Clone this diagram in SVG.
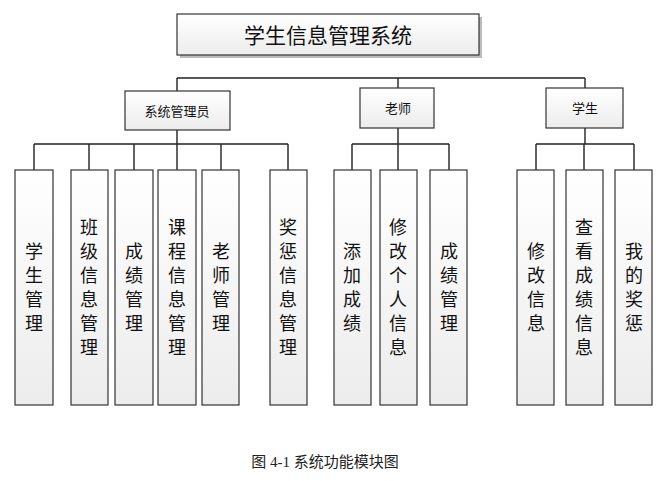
<svg xmlns="http://www.w3.org/2000/svg" width="663" height="481" viewBox="0 0 663 481">
<style>
.b{fill:url(#g);stroke:#333;stroke-width:1.2}
.s{fill:#bbb}
.t{font-family:"Noto Sans CJK SC",sans-serif;fill:#111;text-anchor:middle}
.c{stroke:#222;stroke-width:1.4;fill:none}
</style>
<defs><linearGradient id="g" x1="0" y1="0" x2="0" y2="1"><stop offset="0" stop-color="#fff"/><stop offset="1" stop-color="#ececec"/></linearGradient></defs>
<rect width="663" height="481" fill="#fff"/>
<g id="connectors" class="c">
<path d="M177 78H585M177 78V92M398 78V88M585 78V88"/>
<path d="M177 130V144M34 144H288M34 144V170M89 144V170M134 144V170M177 144V170M221 144V170M288 144V170"/>
<path d="M398 128V144M352 144H449M352 144V170M398 144V170M449 144V170"/>
<path d="M585 128V144M536 144H634M536 144V170M584 144V170M634 144V170"/>
</g>
<g id="title"><rect class="s" x="180" y="17" width="302" height="41"/><rect class="b" x="177" y="14" width="302" height="41"/><text class="t" x="328" y="43" font-size="21">学生信息管理系统</text></g>
<g id="admin"><rect class="b" x="125" y="91" width="105" height="39" fill="#fff"/><text class="t" x="177" y="116" font-size="13">系统管理员</text></g>
<g id="teacher"><rect class="b" x="360" y="88" width="74" height="40"/><text class="t" x="398" y="113" font-size="13">老师</text></g>
<g id="student"><rect class="b" x="546" y="88" width="77" height="40"/><text class="t" x="585" y="113" font-size="13">学生</text></g>
<g font-size="18">
<g id="n1"><rect class="b" x="15" y="170" width="38" height="235"/><text class="t" x="34"><tspan x="34" y="258">学</tspan><tspan x="34" dy="24">生</tspan><tspan x="34" dy="24">管</tspan><tspan x="34" dy="24">理</tspan></text></g>
<g id="n2"><rect class="b" x="71" y="170" width="37" height="235"/><text class="t"><tspan x="89" y="234">班</tspan><tspan x="89" dy="24">级</tspan><tspan x="89" dy="24">信</tspan><tspan x="89" dy="24">息</tspan><tspan x="89" dy="24">管</tspan><tspan x="89" dy="24">理</tspan></text></g>
<g id="n3"><rect class="b" x="115" y="170" width="38" height="235"/><text class="t"><tspan x="134" y="258">成</tspan><tspan x="134" dy="24">绩</tspan><tspan x="134" dy="24">管</tspan><tspan x="134" dy="24">理</tspan></text></g>
<g id="n4"><rect class="b" x="158" y="170" width="38" height="235"/><text class="t"><tspan x="177" y="234">课</tspan><tspan x="177" dy="24">程</tspan><tspan x="177" dy="24">信</tspan><tspan x="177" dy="24">息</tspan><tspan x="177" dy="24">管</tspan><tspan x="177" dy="24">理</tspan></text></g>
<g id="n5"><rect class="b" x="202" y="170" width="37" height="235"/><text class="t"><tspan x="221" y="258">老</tspan><tspan x="221" dy="24">师</tspan><tspan x="221" dy="24">管</tspan><tspan x="221" dy="24">理</tspan></text></g>
<g id="n6"><rect class="b" x="270" y="170" width="37" height="235"/><text class="t"><tspan x="288" y="234">奖</tspan><tspan x="288" dy="24">惩</tspan><tspan x="288" dy="24">信</tspan><tspan x="288" dy="24">息</tspan><tspan x="288" dy="24">管</tspan><tspan x="288" dy="24">理</tspan></text></g>
<g id="n7"><rect class="b" x="334" y="170" width="37" height="235"/><text class="t"><tspan x="352" y="258">添</tspan><tspan x="352" dy="24">加</tspan><tspan x="352" dy="24">成</tspan><tspan x="352" dy="24">绩</tspan></text></g>
<g id="n8"><rect class="b" x="380" y="170" width="37" height="235"/><text class="t"><tspan x="398" y="234">修</tspan><tspan x="398" dy="24">改</tspan><tspan x="398" dy="24">个</tspan><tspan x="398" dy="24">人</tspan><tspan x="398" dy="24">信</tspan><tspan x="398" dy="24">息</tspan></text></g>
<g id="n9"><rect class="b" x="430" y="170" width="37" height="235"/><text class="t"><tspan x="449" y="258">成</tspan><tspan x="449" dy="24">绩</tspan><tspan x="449" dy="24">管</tspan><tspan x="449" dy="24">理</tspan></text></g>
<g id="n10"><rect class="b" x="517" y="170" width="37" height="235"/><text class="t"><tspan x="536" y="258">修</tspan><tspan x="536" dy="24">改</tspan><tspan x="536" dy="24">信</tspan><tspan x="536" dy="24">息</tspan></text></g>
<g id="n11"><rect class="b" x="566" y="170" width="37" height="235"/><text class="t"><tspan x="584" y="234">查</tspan><tspan x="584" dy="24">看</tspan><tspan x="584" dy="24">成</tspan><tspan x="584" dy="24">绩</tspan><tspan x="584" dy="24">信</tspan><tspan x="584" dy="24">息</tspan></text></g>
<g id="n12"><rect class="b" x="615" y="170" width="37" height="235"/><text class="t"><tspan x="634" y="258">我</tspan><tspan x="634" dy="24">的</tspan><tspan x="634" dy="24">奖</tspan><tspan x="634" dy="24">惩</tspan></text></g>
</g>
<text x="325" y="467" font-size="15" text-anchor="middle" font-family="'Liberation Serif','Noto Sans CJK SC',serif" fill="#222">图 4-1 系统功能模块图</text>
</svg>
